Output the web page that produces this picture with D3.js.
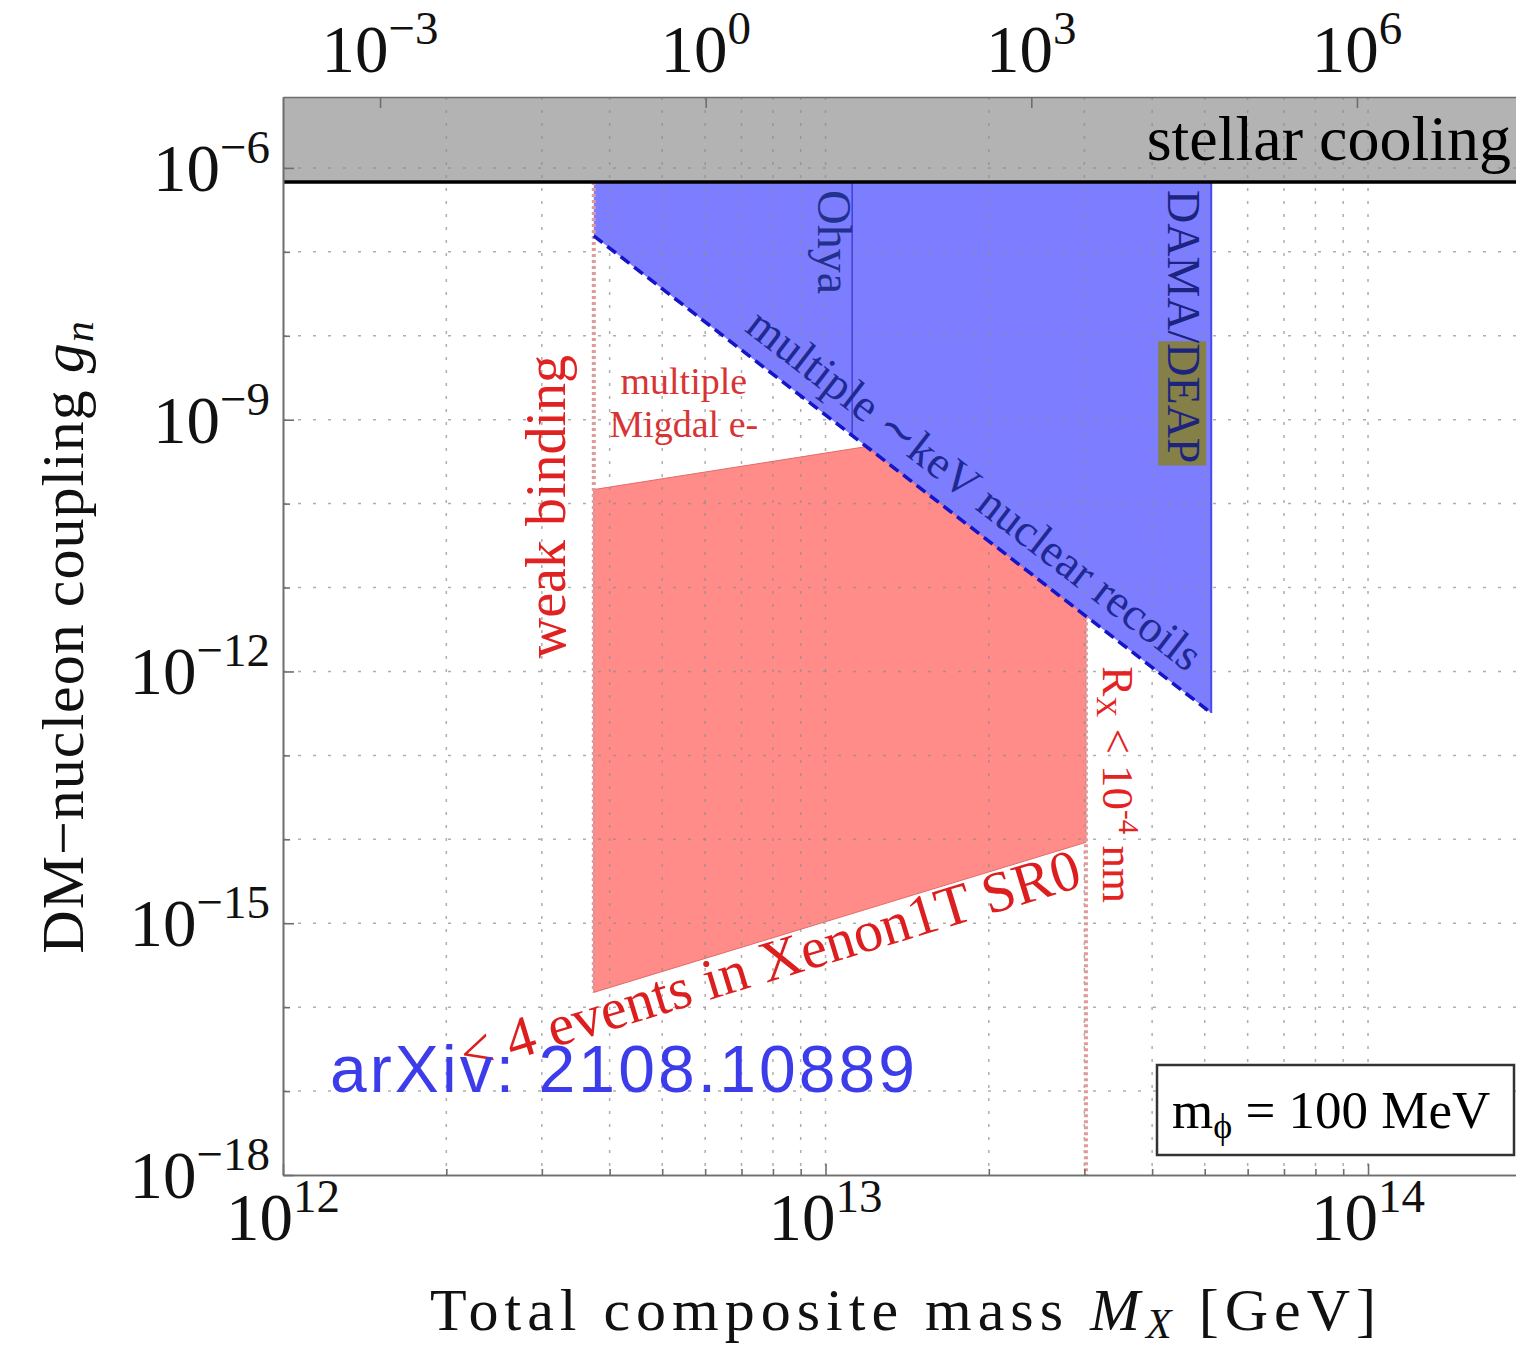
<!DOCTYPE html>
<html>
<head>
<meta charset="utf-8">
<script src="https://cdn.jsdelivr.net/npm/d3@7"></script>
<style>
  body { margin: 0; background: #fff; }
  svg { display: block; }
</style>
</head>
<body>
<script>
var W = 1516, H = 1346;

// axis domains
var massDomain = [1e12, 1.874e14];          // bottom: total composite mass M_X [GeV]
var topDomain = [1.276e-4, 2.92e7];         // top axis
var couplingDomain = [1e-18, 7e-6];         // left: DM-nucleon coupling g_n

var bottomTicks = [1e12, 1e13, 1e14];
var bottomExps = ["12", "13", "14"];
var topTicks = [1e-3, 1, 1e3, 1e6];
var topExps = ["\u22123", "0", "3", "6"];
var leftTicks = [1e-18, 1e-15, 1e-12, 1e-9, 1e-6];
var leftExps = ["\u221218", "\u221215", "\u221212", "\u22129", "\u22126"];
var leftMinorTicks = [1e-17, 1e-16, 1e-14, 1e-13, 1e-11, 1e-10, 1e-8, 1e-7];
var gridCouplings = [1e-17, 1e-16, 1e-15, 1e-14, 1e-13, 1e-12, 1e-11, 1e-10, 1e-9, 1e-8, 1e-7, 1e-6];

// regions and lines [M_X, g_n]
var stellarCooling = 6.8e-7;
var recoilLine = [[3.74e12, 1.55e-7], [5.14e13, 3.2e-13]];
var blueRegion = [[3.74e12, 6.8e-7], [5.14e13, 6.8e-7], [5.14e13, 3.2e-13], [3.74e12, 1.55e-7]];
var redRegion = [[3.74e12, 1.47e-10], [1.19e13, 4.78e-10], [3.02e13, 4.56e-12], [3.02e13, 9.2e-15], [3.74e12, 1.5e-16]];
var xenonEdge = [[3.74e12, 1.5e-16], [3.02e13, 9.2e-15]];
var ohyaLine = [[1.12e13, 6.8e-7], [1.12e13, 6.47e-10]];
var damaLine = [[5.14e13, 6.8e-7], [5.14e13, 3.2e-13]];
var weakBindingLine = [[3.74e12, 6.8e-7], [3.74e12, 1.5e-16]];
var radiusLine = [[3.02e13, 4.56e-12], [3.02e13, 1e-18]];

var serif = "'Liberation Serif', 'Times New Roman', serif";

var x = d3.scaleLog().domain(massDomain).range([283, W]);
var xTop = d3.scaleLog().domain(topDomain).range([283, W]);
var y = d3.scaleLog().domain(couplingDomain).range([1175, 97]);

var svg = d3.select('body').append('svg')
  .attr('width', W)
  .attr('height', H);

svg.append("defs").append("clipPath").attr("id", "plot")
  .append("rect").attr("x", 283).attr("y", 97).attr("width", W - 283).attr("height", 1175 - 97);

var plot = svg.append("g").attr("clip-path", "url(#plot)");
var line = d3.line().x(function(d) { return x(d[0]); }).y(function(d) { return y(d[1]); });

// stellar cooling band
plot.append("rect")
  .attr("x", 283).attr("y", y(couplingDomain[1]))
  .attr("width", W - 283).attr("height", y(stellarCooling) - y(couplingDomain[1]))
  .attr("fill", "#b3b3b3");

// excluded regions
plot.append("path").attr("d", line(blueRegion) + "Z").attr("fill", "#7d7dff");
plot.append("path").attr("d", line(redRegion) + "Z").attr("fill", "#ff8c88")
  .attr("stroke", "#e46a6a").attr("stroke-width", 1);

// grid
plot.selectAll(".vgrid").data(x.ticks()).enter().append("line")
  .attr("x1", function(d) { return x(d); }).attr("x2", function(d) { return x(d); })
  .attr("y1", 97).attr("y2", 1175)
  .attr("stroke", "#8c8c8c").attr("stroke-opacity", 0.7).attr("stroke-width", 1.5)
  .attr("stroke-dasharray", "3,10");
plot.selectAll(".hgrid").data(gridCouplings).enter().append("line")
  .attr("y1", function(d) { return y(d); }).attr("y2", function(d) { return y(d); })
  .attr("x1", 283).attr("x2", W)
  .attr("stroke", "#8c8c8c").attr("stroke-opacity", 0.7).attr("stroke-width", 1.5)
  .attr("stroke-dasharray", "3,12");

// boundary lines
plot.append("path").attr("d", line(ohyaLine)).attr("stroke", "#4444dd").attr("stroke-width", 1.6).attr("fill", "none");
plot.append("path").attr("d", line(damaLine)).attr("stroke", "#4a4af0").attr("stroke-width", 2).attr("fill", "none");
plot.append("path").attr("d", line(weakBindingLine)).attr("stroke", "#e09a9a").attr("stroke-width", 4)
  .attr("stroke-dasharray", "3,3").attr("fill", "none");
plot.append("path").attr("d", line(radiusLine)).attr("stroke", "#e09a9a").attr("stroke-width", 4)
  .attr("stroke-dasharray", "3,3").attr("fill", "none");
plot.append("path").attr("d", line(recoilLine)).attr("stroke", "#1414c8").attr("stroke-width", 3.5)
  .attr("stroke-dasharray", "11,6").attr("fill", "none");
plot.append("line")
  .attr("x1", 283).attr("x2", W).attr("y1", y(stellarCooling)).attr("y2", y(stellarCooling))
  .attr("stroke", "#000").attr("stroke-width", 3.5);

// axes
function styleAxis(g) {
  g.select(".domain").attr("stroke", "#6e6e6e").attr("stroke-width", 1.6);
  g.selectAll(".tick line").attr("stroke", "#6e6e6e").attr("stroke-width", 1.6);
}
svg.append("g").attr("transform", "translate(0,1175)")
  .call(d3.axisBottom(x).tickValues(bottomTicks).tickSizeInner(-11).tickSizeOuter(0).tickFormat(""))
  .call(styleAxis);
svg.append("g").attr("transform", "translate(0,1175)")
  .call(d3.axisBottom(x).tickValues(x.ticks().filter(function(d) { return bottomTicks.indexOf(d) < 0; }))
    .tickSizeInner(-6).tickSizeOuter(0).tickFormat(""))
  .call(styleAxis);
svg.append("g").attr("transform", "translate(0,97)")
  .call(d3.axisTop(xTop).tickValues(topTicks).tickSizeInner(-11).tickSizeOuter(0).tickFormat(""))
  .call(styleAxis);
svg.append("g").attr("transform", "translate(283,0)")
  .call(d3.axisLeft(y).tickValues(leftTicks).tickSizeInner(-11).tickSizeOuter(0).tickFormat(""))
  .call(styleAxis);
svg.append("g").attr("transform", "translate(283,0)")
  .call(d3.axisLeft(y).tickValues(leftMinorTicks).tickSizeInner(-7).tickSizeOuter(0).tickFormat(""))
  .call(styleAxis);

// tick labels 10^n
function powLabel(px, py, exp, anchor) {
  var t = svg.append("text").attr("x", px).attr("y", py).attr("text-anchor", anchor)
    .attr("font-family", serif).attr("font-size", 67).attr("fill", "#111").text("10");
  t.append("tspan").attr("dy", -28).attr("font-size", 47).text(exp);
}
bottomTicks.forEach(function(v, i) { powLabel(x(v), 1240, bottomExps[i], "middle"); });
topTicks.forEach(function(v, i) { powLabel(xTop(v), 72, topExps[i], "middle"); });
leftTicks.forEach(function(v, i) { powLabel(270, y(v) + 23, leftExps[i], "end"); });

// axis titles
var yt = svg.append("text")
  .attr("transform", "translate(83," + 637 + ") rotate(-90)")
  .attr("text-anchor", "middle").attr("font-family", serif).attr("font-size", 60).attr("fill", "#111")
  .attr("letter-spacing", 1)
  .text("DM\u2212nucleon coupling ");
yt.append("tspan").attr("font-style", "italic").text("g");
yt.append("tspan").attr("font-style", "italic").attr("font-size", 42).attr("dy", 10).text("n");

var xt = svg.append("text")
  .attr("x", 906).attr("y", 1330)
  .attr("text-anchor", "middle").attr("font-family", serif).attr("font-size", 60).attr("fill", "#111")
  .attr("letter-spacing", 6)
  .text("Total composite mass ");
xt.append("tspan").attr("font-style", "italic").text("M");
xt.append("tspan").attr("font-style", "italic").attr("font-size", 42).attr("dy", 8).text("X");
xt.append("tspan").attr("dy", -8).text(" [GeV]");

// annotations
svg.append("text").attr("x", W - 5).attr("y", y(stellarCooling) - 22)
  .attr("text-anchor", "end").attr("font-family", serif).attr("font-size", 64).attr("fill", "#000")
  .text("stellar cooling");

svg.append("text")
  .attr("transform", "translate(" + (x(ohyaLine[0][0]) - 34) + "," + (y(stellarCooling) + 8) + ") rotate(90)")
  .attr("font-family", serif).attr("font-size", 48).attr("fill", "#22308e")
  .text("Ohya");

var dama = svg.append("g")
  .attr("transform", "translate(" + (x(damaLine[0][0]) - 43) + "," + (y(stellarCooling) + 8) + ") rotate(90)");
var damaText = dama.append("text")
  .attr("font-family", serif).attr("font-size", 46).attr("fill", "#1c2480")
  .text("DAMA/DEAP");
var off = damaText.node().getSubStringLength(0, 5);
var len = damaText.node().getSubStringLength(5, 4);
dama.insert("rect", "text")
  .attr("x", off - 2).attr("y", -38).attr("width", len + 4).attr("height", 48)
  .attr("fill", "#857f48");

function alongLabel(seg, t, offset, size, color, txt) {
  var a = [x(seg[0][0]), y(seg[0][1])], b = [x(seg[1][0]), y(seg[1][1])];
  var ang = Math.atan2(b[1] - a[1], b[0] - a[0]);
  var px = a[0] + t * (b[0] - a[0]) + offset * Math.sin(ang);
  var py = a[1] + t * (b[1] - a[1]) - offset * Math.cos(ang);
  return svg.append("text")
    .attr("transform", "translate(" + px + "," + py + ") rotate(" + (ang * 180 / Math.PI) + ")")
    .attr("text-anchor", "middle").attr("font-family", serif).attr("font-size", size).attr("fill", color)
    .text(txt);
}
alongLabel(recoilLine, 0.585, 17, 46, "#1e2a92", "multiple \u223CkeV nuclear recoils");
alongLabel(xenonEdge, 0.345, -41, 58, "#dc1e1e", "< 4 events in Xenon1T SR0");

svg.append("text")
  .attr("transform", "translate(" + (x(weakBindingLine[0][0]) - 29) + "," + (y(1e-10) + 3) + ") rotate(-90)")
  .attr("text-anchor", "middle").attr("font-family", serif).attr("font-size", 56).attr("fill", "#e02222")
  .text("weak binding");

var mig = svg.append("text").attr("text-anchor", "middle")
  .attr("font-family", serif).attr("font-size", 38).attr("fill", "#d83434");
mig.append("tspan").attr("x", x(weakBindingLine[0][0]) + 90).attr("y", y(1e-9) - 26).text("multiple");
mig.append("tspan").attr("x", x(weakBindingLine[0][0]) + 90).attr("y", y(1e-9) + 17).text("Migdal e-");

var rx = svg.append("text")
  .attr("transform", "translate(" + (x(radiusLine[0][0]) + 17) + "," + (y(radiusLine[0][1]) + 50) + ") rotate(90)")
  .attr("font-family", serif).attr("font-size", 45).attr("fill", "#e42222")
  .text("R");
rx.append("tspan").attr("font-size", 29).attr("dy", 6).text("X");
rx.append("tspan").attr("dy", -6).text(" < 10");
rx.append("tspan").attr("font-size", 29).attr("dy", -16).text("-4");
rx.append("tspan").attr("dy", 16).text(" nm");

// parameter box
svg.append("rect").attr("x", 1157).attr("y", 1065).attr("width", 357).attr("height", 90)
  .attr("fill", "#fff").attr("stroke", "#333").attr("stroke-width", 2.5);
var leg = svg.append("text").attr("x", 1172).attr("y", 1128)
  .attr("font-family", serif).attr("font-size", 53).attr("fill", "#000").text("m");
leg.append("tspan").attr("font-size", 36).attr("dy", 10).text("\u03D5");
leg.append("tspan").attr("dy", -10).text(" = 100 MeV");

// arXiv stamp
svg.append("text").attr("x", 330).attr("y", 1092)
  .attr("font-family", "'Liberation Sans', Arial, sans-serif").attr("font-size", 66)
  .attr("fill", "#3c3ceb").attr("textLength", 585).attr("lengthAdjust", "spacing")
  .text("arXiv: 2108.10889");
</script>
</body>
</html>
